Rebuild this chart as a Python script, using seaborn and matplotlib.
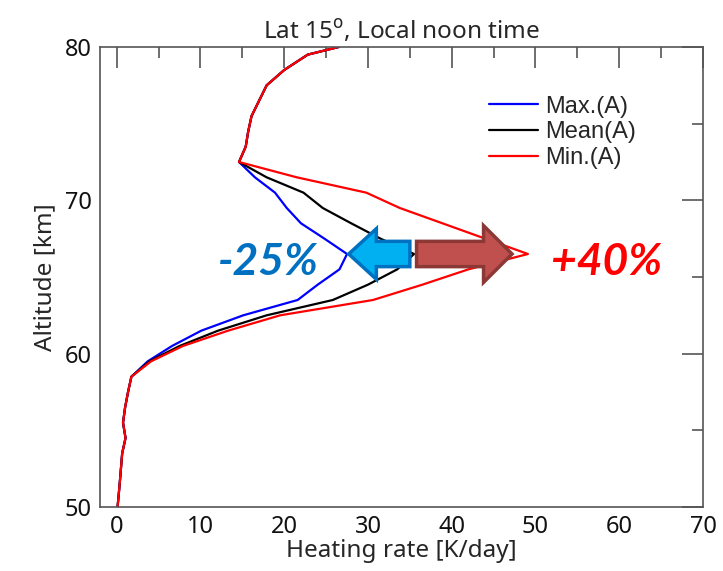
import numpy as np
import pandas as pd
import matplotlib
matplotlib.use("Agg")
import matplotlib.pyplot as plt
import seaborn as sns
from matplotlib.patches import FancyArrow
from matplotlib.ticker import MultipleLocator

# altitude levels [km] and heating rates [K/day]
altitude = [50.0, 51.5, 52.5, 53.5, 54.5, 55.5, 56.5, 57.5, 58.5, 59.5,
            60.5, 61.5, 62.5, 63.5, 64.5, 65.5, 66.5, 67.5, 68.5, 69.5,
            70.5, 71.5, 72.5, 73.5, 74.5, 75.5, 76.5, 77.5, 78.5, 79.5, 80.0]
heat_max = [0.1, 0.35, 0.5, 0.65, 1.05, 0.75, 1.0, 1.35, 1.75, 3.7,
            6.6, 10.1, 15.1, 21.6, 24.0, 26.6, 27.5, 24.8, 22.0, 20.3,
            18.9, 16.5, 14.6, 15.4, 15.7, 16.1, 17.0, 17.9, 20.0, 22.8, 26.5]
heat_mean = [0.1, 0.35, 0.5, 0.65, 1.05, 0.75, 1.0, 1.35, 1.75, 3.9,
             7.5, 12.1, 17.9, 25.8, 30.0, 33.5, 35.5, 31.5, 28.0, 24.6,
             22.3, 17.9, 14.6, 15.4, 15.7, 16.1, 17.0, 17.9, 20.0, 22.8, 26.5]
heat_min = [0.1, 0.35, 0.5, 0.65, 1.05, 0.75, 1.0, 1.35, 1.75, 4.1,
            7.9, 13.3, 19.5, 30.6, 36.5, 42.0, 49.1, 44.0, 38.9, 33.8,
            29.8, 21.5, 14.6, 15.4, 15.7, 16.1, 17.0, 17.9, 20.0, 22.8, 26.5]
case_names = ["Max.(A)", "Mean(A)", "Min.(A)"]
case_colors = ["blue", "black", "red"]

df = pd.concat([
    pd.DataFrame({"heating": h, "altitude": altitude, "case": name})
    for h, name in zip([heat_max, heat_mean, heat_min], case_names)
])

sns.set_theme(style="white")
plt.rcParams["font.family"] = ["Noto Sans", "DejaVu Sans"]

fig = plt.figure(figsize=(7.23, 5.71), dpi=100)
ax = fig.add_axes([0.1383, 0.1121, 0.8340, 0.8056])

sns.lineplot(data=df, x="heating", y="altitude", hue="case",
             palette=dict(zip(case_names, case_colors)), orient="y",
             estimator=None, linewidth=1.6, ax=ax)

ax.set_xlim(-2, 70)
ax.set_ylim(50, 80)
ax.xaxis.set_major_locator(MultipleLocator(10))
ax.xaxis.set_minor_locator(MultipleLocator(5))
ax.yaxis.set_major_locator(MultipleLocator(10))
ax.yaxis.set_minor_locator(MultipleLocator(5))
ax.tick_params(which="both", direction="in", top=True, right=True,
               color="#555555", width=1.2, labelsize=17, labelcolor="#111111")
ax.tick_params(which="major", length=15, pad=6)
ax.tick_params(which="minor", length=8)
for sp in ax.spines.values():
    sp.set_color("#555555")
    sp.set_linewidth(1.2)

ax.set_xlabel("Heating rate [K/day]", fontsize=17.5, labelpad=0)
ax.set_ylabel("Altitude [km]", fontsize=17.5, labelpad=5)
ax.set_title("Lat 15$^{\\mathrm{o}}$, Local noon time", fontsize=17.5, pad=6)

leg = ax.legend(loc="upper left", bbox_to_anchor=(0.645, 0.894), frameon=False,
                prop={"family": "Liberation Sans", "size": 17},
                handlelength=2.1, handletextpad=0.3, labelspacing=0.15,
                borderpad=0, borderaxespad=0)

# arrows from the mean peak towards the max / min peaks
i_pk = int(np.argmax(heat_mean))
y_pk = altitude[i_pk]
x_mean, x_max, x_min = heat_mean[i_pk], heat_max[i_pk], heat_min[i_pk]
ax.add_patch(FancyArrow(x_mean - 0.5, y_pk, (x_max + 0.2) - (x_mean - 0.5), 0,
                        width=1.65, head_width=3.3, head_length=3.3,
                        length_includes_head=True, facecolor="#00B0F0",
                        edgecolor="#0070C0", linewidth=2.5, zorder=5))
ax.add_patch(FancyArrow(x_mean + 0.3, y_pk, (x_min - 1.9) - (x_mean + 0.3), 0,
                        width=1.65, head_width=3.7, head_length=3.4,
                        length_includes_head=True, facecolor="#C0504D",
                        edgecolor="#8C3836", linewidth=2.5, zorder=5))

pct_lo = round((x_max / x_mean - 1) * 100 / 5) * 5
pct_hi = round((x_min / x_mean - 1) * 100 / 5) * 5
ax.text(18.1, y_pk - 0.55, f"{pct_lo:d}%", color="#0070C0", fontsize=32,
        fontweight="bold", fontstyle="italic", ha="center", va="center",
        family="Lato")
ax.text(58.5, y_pk - 0.55, f"+{pct_hi:d}%", color="red", fontsize=32,
        fontweight="bold", fontstyle="italic", ha="center", va="center",
        family="Lato")

fig.savefig("out.png", dpi=100)
